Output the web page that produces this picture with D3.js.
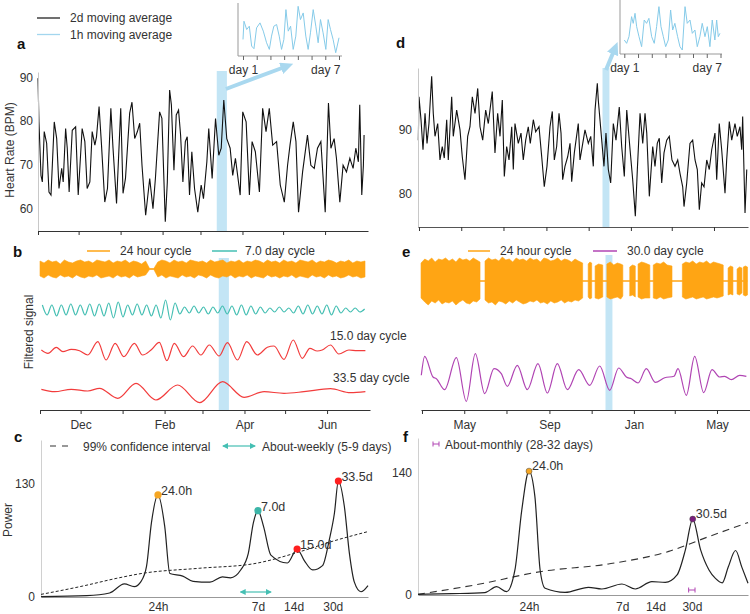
<!DOCTYPE html>
<html>
<head>
<meta charset="utf-8">
<script src="https://cdn.jsdelivr.net/npm/d3@7"></script>
<style>
  body { margin: 0; background: #fff; }
  svg { font-family: "Liberation Sans", Arial, sans-serif; }
</style>
</head>
<body>
<div id="chart"></div>
<script>
// ---------- data ----------
// panel a: 2d moving average heart rate, days since 1 Nov
var hrADays = [0,0.7,2.2,3.2,4.6,6.4,8.1,9.6,12,13.8,15.5,17.5,18.6,20.4,21.6,23,25.3,27.8,29.7,32.6,
  34.6,36.3,38.3,40,42,43.2,45.1,46.9,49.3,51.3,53.8,55.4,58,61.1,62.8,64.6,67.7,69.4,71.4,73.4,
  75.1,76.8,79.5,82.5,84.9,86.7,89.8,91.5,94,95.5,97.2,98.5,100.4,102.1,103.8,105.3,107,108.8,110.2,111.9,
  113.6,115.6,118,120.5,122.2,124.7,126.1,128.6,131.1,133.5,135.3,137.2,139.4,141.9,143.8,145.8,149.3,151.2,153.7,156.1,
  158.1,160.5,163.5,165.9,168.4,170.8,173.3,176.2,178.9,181.9,184.3,186.1,188.5,190.5,192.4,195.4,199,201.5,204,206.4,
  208.9,212.1,214.5,216.3,218.7,220.4,222.9,225.3,227.8,230.3,232.7,234.7,236.6,237.6,239.1,240.3,240.8];
var hrA = [89.8,79.8,67.6,66.1,77.6,74.9,63.8,63.1,79.8,76,64.6,69.2,66.1,78.3,73.8,63.8,77.9,78.7,63.1,78.3,
  75.3,64.6,66.1,77.6,74.5,76.4,83.3,74.5,61.5,64.6,82.9,73.8,61.2,82.9,63.5,66.9,81.8,84.3,76,77.6,
  79.5,69.9,58.5,66.9,60,66.9,82.1,80.6,57,66.1,87.1,83.7,68.8,81.4,82.5,76.8,66.1,75.3,76.4,63.1,
  73,64.6,59.2,65.4,62.3,70.7,78.3,66.9,80.6,72.2,73.8,84.8,76,73.8,67.6,71.5,63.1,82.1,79.8,63.1,
  75.3,73,63.8,82.9,77.6,82.9,74.5,75.3,65.4,61.5,69.9,74.5,79.8,75.3,59.2,68.4,76.8,69.9,69.2,73.8,
  75.3,59.2,84.1,73.8,76,71.5,61.5,69.9,68.4,71.5,69.2,73.8,70.7,83.7,63.1,69.9,76.8];

// panel d: days since 1 Mar
var hrDDays = [-1,0,2.9,5.8,8.7,11.6,14.4,18.3,20.6,23.1,27,30.3,33.6,36.5,40,42.3,47.2,49.5,54.4,59.2,
  62.5,66.4,70.3,73.6,77,80.9,84.8,88.1,92,96.3,100.1,105.8,109.7,113.6,117,120.3,123.2,126.6,130,133.9,
  136.2,138.6,143.4,147.3,150.6,154.1,157.8,160.7,165.1,168.5,173.3,177.2,180.9,184.8,189.2,192.5,195.4,198.8,202.2,205.1,
  207.5,210.8,214.7,218.1,220.5,224.3,230,232.5,239.7,244.5,248,251.7,254.2,257.5,258.9,267.1,270,273.4,276.8,280.6,
  284.5,289.2,292.7,296.5,300,304.8,308.6,312.4,315.3,319.2,323.1,326.4,328.9,332.6,337.5,340.8,344.1,347,350.5,353.8,
  357.7,361.4,365.3,369.7,373.6,376.9,380.8,382.7,386.6,391.3,395.2,398.6,401.9,404.8,408.2,411.6,415.5,419.2,422.7,427.4,
  429.9,433.6,437.1,441.9,444.3,448.1,451.6,456.3,459.6,463.5,466,467.4,470.8,473.3];
var hrD = [88.4,95.2,91.6,86.9,92.6,87.9,91,98.4,92.6,89,91,85.3,87.4,85.6,91.6,85.3,95.2,89,93.1,90,
  85.8,82.2,89,90.5,95.2,92.6,96.5,90.5,88.4,93.1,91,96,86.4,92.6,89,94.7,82.7,87.4,85.3,90.5,
  83.8,91,87.9,89.5,85.3,88.4,90.5,87.9,91.6,89.7,90.5,85.8,81.1,84.3,90.5,92.9,85.3,87.4,92.6,89.5,
  82.2,84.3,85.8,87.9,81.9,86.4,91,85.3,90,87.9,89,84.3,93.1,97.3,94.7,84.3,89.5,83.8,81.7,91,
  88.4,93.6,87.4,82.7,93.1,86.9,82.2,76.5,83.8,92.6,87.9,92.6,89.5,79.6,87.4,84.3,87.9,88.7,81.7,86.4,
  88.4,89,85.3,84.3,85.3,83.2,81.1,78,81.7,87.9,88.4,85.3,83.8,77.5,81.7,81.1,85.3,83.8,86.9,89.5,
  82.2,91,86.9,80.1,85.3,91.3,88.4,91,89,90.5,86.9,92.1,77,83.8];

// insets: 1h moving average over one week
var insetADays = [1,1.07,1.27,1.46,1.63,1.8,1.99,2.24,2.48,2.72,2.92,3.08,3.25,3.45,3.64,3.81,3.98,4.13,4.3,4.47,
  4.66,4.85,5.02,5.19,5.39,5.58,5.75,5.92,6.12,6.31,6.48,6.65,6.84,7.04,7.21,7.38,7.57,7.76,8];
var insetA = [70,81,76,78,66,64.4,77,80,75,68,64,72,78,79,72,64,70,88,75,78,
  64,72,90,82,86,72,64,74,88,78,68,82,74,64,82,76,70,62,71];
var insetDDays = [1,1.17,1.34,1.53,1.65,1.78,1.9,2.07,2.26,2.45,2.62,2.79,2.99,3.18,3.35,3.52,3.67,3.84,4.01,4.2,
  4.37,4.52,4.68,4.88,5.05,5.22,5.42,5.58,5.78,5.95,6.14,6.31,6.5,6.67,6.87,7.04,7.23,7.4,7.59,7.72,7.84,7.96];
var insetD = [68.4,66.4,70.4,82.4,78.4,84.4,76.4,70.4,64.4,80.4,78.4,81.4,70.4,66.4,76.4,88.4,76.4,70.4,64.4,68.4,
  86.4,74.4,78.4,70.4,64.4,62.4,88.4,78.4,80.4,72.4,74.4,64.4,70.4,78.4,70.4,76.4,64.4,80.4,68.4,80.4,70.4,72.4];

// panel b: filtered signals (arbitrary units)
var cyc24BStep = 3;
var cyc24BUpper = [8,6,9,7,8,5,9,7,6,8, 9,7,8,6,9,8,7,9,6,8, 7,9,6,8,7,5,8, 0.3,0.3,
  7,9,8,6,9,7,8,6,9,8,7, 8,6,9,7,8,9,6,8,7,9, 6,8,7,9,8,6,9,7,8,6,
  9,7,8,6,9,8,7,9,6,8, 7,9,8,6,8,7,9,6,8,7,8];
var cyc24BLower = [-7,-9,-6,-8,-9,-6,-8,-7,-9,-6, -8,-9,-7,-8,-6,-9,-8,-7,-9,-6, -8,-7,-9,-6,-8,-7,-6, -0.3,-0.3,
  -8,-6,-9,-7,-8,-9,-6,-8,-7,-9,-6, -7,-9,-6,-8,-9,-7,-8,-6,-9,-7, -8,-6,-9,-7,-8,-9,-6,-8,-7,-9,
  -7,-8,-6,-9,-7,-8,-9,-6,-8,-7, -9,-6,-8,-7,-9,-8,-6,-8,-7,-9,-8];
var cyc7BStart = 1.75, cyc7BStep = 3.5;
var cyc7B = [5,-5,5,-6,5,-5,6,-5,5,-5,6,-6,6,-6,7,-8,8,-7,5,-5,6,-5,5,-6,5,-8,10,-10,7,
  -4,3,-3,4,-3,3,-4,3,-3,4,-4,4,-5,5,-5,4,-4,3,-3,2,-2,3,-2,2,-3,4,-4,5,-4,4,-4,5,-5,4,-3,2,-2,2,-2,1];
var cyc15BDays = [1,5.9,12,16.9,23.1,29.2,35.3,42.7,48.8,55.5,61.9,69.7,75.8,82,88.1,93.7,99.2,106,112.7,118.8,
  125,132.3,138.4,145.8,152.7,160.5,167.9,172.8,180.2,187,193.7,199.3,204.7,208.4,214.5,220.7,228.1,234.2,240.3];
var cyc15B = [0,-3.3,2.7,-1.7,0.7,-0.7,-5,8.3,-10,6.7,-6.7,6.7,-5,0,7.7,-10.7,6.7,-6.7,4,-5,
  5,-6,7.3,-10,8.3,-5,2.7,4,-9.3,10,-8.3,1.7,-1,0,5,-4,0,-0.7,-0.7];
var cyc33BDays = [1,10.8,23.1,35.3,44,57.4,70.9,85.6,101.6,118,134.8,150.7,165.5,180.2,194.9,214.5,229.2,240.3];
var cyc33B = [1.7,-0.7,1.7,0,2.7,-7.3,7.7,-9,6,-11.7,9.3,-6.3,-0.7,-2.3,-0.7,2.3,-1.7,-0.7];

// panel e: 24h envelope (days since 1 Mar), zeros where the rhythm drops out
var cyc24EDays = [-1.4,-1.4,4,9,14,19,24,29,34,39,44,49,54,59,64,69,74,79,83.8,83.8,
  91,91,96,101,106,111,116,121,126,131,136,141,146,151,156,161,166,171,176,181,186,191,196,201,206,211,216,221,226,232,232,
  240,240,242.5,245,245, 250,250,255,261,261, 267,267,272,277,282,287,290,290, 300,300,304,308,308,
  312,312,317,322,329,329, 334,334,339,344,349,354,361,361,
  376,376,381,386,391,396,401,406,411,416,421,426,431,435,435,
  442,442,445.5,449,449, 455,455,458.5,462,462, 464,464,467,470,470];
var cyc24ETop = [0,18,22,20,23,19,22,21,23,20,22,19,23,21,22,20,23,21,19,0,
  0,20,23,21,22,20,24,21,22,19,23,21,22,20,23,21,22,19,23,22,20,21,23,20,22,21,19,22,20,18,0,
  0,17,19,18,0, 0,15,17,16,0, 0,17,19,16,18,17,16,0, 0,14,16,15,0,
  0,17,19,18,16,0, 0,16,18,17,19,16,15,0,
  0,17,19,18,20,17,19,18,20,17,19,18,17,16,0,
  0,13,15,14,0, 0,12,14,13,0, 0,14,15,14,0];
var cyc24EBottom = [0,17,21,24,20,22,19,23,21,22,20,24,21,19,22,23,20,21,18,0,
  0,19,22,21,24,20,21,23,20,22,19,21,23,22,20,21,19,22,21,23,20,22,21,19,22,20,21,19,20,17,0,
  0,16,18,17,0, 0,17,18,16,0, 0,16,18,17,16,18,15,0, 0,15,14,16,0,
  0,16,18,17,17,0, 0,17,18,16,18,17,16,0,
  0,16,18,17,16,18,17,16,18,17,16,17,16,15,0,
  0,14,13,14,0, 0,13,14,12,0, 0,14,15,14,0];
var cyc30EDays = [-1,3.9,15.9,20.7,32.7,49.6,64,77,90.5,104,114.5,123.2,137.6,152.1,167.5,181,195.4,209.9,226.3,242.2,
  256.6,271.1,284,295.1,302.3,312,323.9,336.9,350.5,363.9,369.7,381.7,393.8,406.8,418.8,429.9,437.1,446.7,458.8,468.4];
var cyc30E = [1.7,20.7,0,-1.7,-12.7,19.3,-24.3,23.3,-16.7,8.3,3.3,-9.3,11.7,-12.7,13.3,-16,13.3,-12.7,7.3,-8.3,
  11,-13.3,9,0,-1.7,-6,8.3,-5.3,-0.7,0.7,8.3,-18.3,20.7,-15.7,7.3,0,0.7,-2.7,1.7,0.7];

// panel c: power spectrum (period in days)
var powerCPeriods = [0.1026,0.25,0.39,0.52,0.63,0.72,0.8,0.88,1,1.14,1.26,1.62,1.98,2.75,3.5,4.1,5,5.8,6.4,7,
  7.8,9,12.4,15,17.2,20.3,24.6,28,31,33.5,37.6,41.5,45.7,52,59.6];
var powerC = [0.5,1.5,4.6,15,12,18,35,85,117,81,27,24,18,17,23,22,31,50,85,99,
  81,48,39,55,42,31,36,65,96,133,104,50,17,6,13];
var ciCPeriods = [0.1026,0.232,0.45,0.73,2.26,6.35,15.9,30.1,59.6];
var ciC = [3,12.6,21.5,27,33,38,52,64,75];
var peakLabelsC = ["24.0h","7.0d","15.0d","33.5d"];
var peakPeriodsC = [1,7,15,33.5];
var peakPowerC = [117,99,55,133];

// panel f
var powerFPeriods = [0.0985,0.2,0.398,0.508,0.627,0.746,0.859,1,1.13,1.26,1.4,2.12,3.46,4.57,6.96,9.2,13,17.2,22,26.2,
  30.5,35.9,42.7,49,56.5,64,74.6,85,96.7];
var powerF = [0.8,1.5,2.7,9.6,3.8,29,97,142,113,29,7.7,3,8.8,6.9,12.6,6.9,15.3,14.5,23,52,
  87,52,29,19,14,32,51,32,13.4];
var ciFPeriods = [0.0985,0.323,1.3,5.25,18.5,42.7,96.7];
var ciF = [0.8,11.5,27,35.6,50,67,83];
var peakLabelsF = ["24.0h","30.5d"];
var peakPeriodsF = [1,30.5];
var peakPowerF = [142,87];

var periodTicks = [1,7,14,30];
var periodTickLabels = ["24h","7d","14d","30d"];
var monthLabelsB = ["","Dec","","Feb","","Apr","","Jun"];
var monthLabelsE = ["","May","","Sep","","Jan","","May"];
var highlightA = [132,139.5];
var highlightD = [265,275];

// ---------- colours ----------
var ORANGE = "#ffa514", TEAL = "#45bfb3", RED = "#f23c3c", PURPLE = "#b044b3";
var BAND = "#c3e5f5", ARROW = "#a9d8ef", INSET = "#86cbe9";

// ---------- scales ----------
var DAY = 864e5;
var startA = new Date(2018, 10, 1), startD = new Date(2018, 2, 1);
function dA(d) { return new Date(startA.getTime() + d * DAY); }
function dD(d) { return new Date(startD.getTime() + d * DAY); }

var xA = d3.scaleTime().domain([dA(0), dA(243.7)]).range([38, 368]);
var xB = d3.scaleTime().domain([dA(0), dA(243.7)]).range([40, 370]);
var xD = d3.scaleTime().domain([dD(-1.44), dD(475.1)]).range([418, 748]);
var xE = d3.scaleTime().domain([dD(-1.44), dD(475.1)]).range([421, 751]);
var yA = d3.scaleLinear().domain([54.9, 91.2]).range([231, 72]);
var yD = d3.scaleLinear().domain([74.8, 99.7]).range([227, 68]);

var monthTicksA = d3.timeMonth.range(dA(0), dA(213));
var monthTicksD = d3.timeMonth.every(2).range(dD(0), dD(430));

var svg = d3.select("#chart").append("svg").attr("width", 750).attr("height", 614);

var defs = svg.append("defs");
defs.append("marker").attr("id", "bigHead").attr("markerUnits", "userSpaceOnUse")
  .attr("markerWidth", 13).attr("markerHeight", 12).attr("refX", 1).attr("refY", 6).attr("orient", "auto")
  .append("path").attr("d", "M0,0L13,6L0,12Z").attr("fill", ARROW);
defs.append("marker").attr("id", "tealHead").attr("markerUnits", "userSpaceOnUse")
  .attr("markerWidth", 6).attr("markerHeight", 6).attr("refX", 5).attr("refY", 3).attr("orient", "auto-start-reverse")
  .append("path").attr("d", "M0,0L6,3L0,6Z").attr("fill", TEAL);

function label(x, y, s, opt) {
  opt = opt || {};
  return svg.append("text").attr("x", x).attr("y", y).text(s)
    .attr("font-size", opt.size || 12).attr("fill", opt.color || "#333")
    .attr("font-weight", opt.bold ? "bold" : null)
    .attr("text-anchor", opt.anchor || "start");
}
function vlabel(x, y, s) {
  svg.append("text").attr("transform", "translate(" + x + "," + y + ") rotate(-90)")
    .attr("text-anchor", "middle").attr("font-size", 12).attr("fill", "#333").text(s);
}
function styleAxis(g, domainColor) {
  g.select(".domain").attr("stroke", domainColor);
  g.selectAll(".tick line").attr("stroke", "#333");
  g.selectAll(".tick text").attr("fill", "#333").attr("font-size", 12).attr("font-family", "Liberation Sans, Arial, sans-serif");
}

// ---------- panel labels ----------
label(17, 49, "a", {size: 15, bold: true, color: "#111"});
label(13, 257, "b", {size: 15, bold: true, color: "#111"});
label(14, 442, "c", {size: 15, bold: true, color: "#111"});
label(396, 48, "d", {size: 15, bold: true, color: "#111"});
label(402, 257, "e", {size: 15, bold: true, color: "#111"});
label(403, 442, "f", {size: 15, bold: true, color: "#111"});

// ---------- legend a ----------
svg.append("line").attr("x1", 37).attr("x2", 60).attr("y1", 18).attr("y2", 18).attr("stroke", "#222").attr("stroke-width", 1.3);
label(70, 22, "2d moving average");
svg.append("line").attr("x1", 37).attr("x2", 60).attr("y1", 34.5).attr("y2", 34.5).attr("stroke", "#a3d6ee").attr("stroke-width", 1.3);
label(70, 38.5, "1h moving average");

// ---------- panel a ----------
var hrLineA = d3.line().x(function (d) { return xA(dA(d[0])); }).y(function (d) { return yA(d[1]); });
svg.append("rect").attr("x", xA(dA(highlightA[0]))).attr("y", 71)
  .attr("width", xA(dA(highlightA[1])) - xA(dA(highlightA[0]))).attr("height", 160).attr("fill", BAND);
svg.append("path").datum(d3.zip(hrADays, hrA)).attr("d", hrLineA)
  .attr("fill", "none").attr("stroke", "#111").attr("stroke-width", 1.1);
var axA = svg.append("g").attr("transform", "translate(38,0)")
  .call(d3.axisLeft(yA).tickValues([60, 70, 80, 90]).tickSize(0).tickPadding(5));
styleAxis(axA, "#c8c8c8");
var axAx = svg.append("g").attr("transform", "translate(0,231)")
  .call(d3.axisBottom(xA).tickValues(monthTicksA).tickFormat("").tickSize(4).tickSizeOuter(0));
styleAxis(axAx, "#333");
vlabel(14, 150, "Heart Rate (BPM)");

// inset a
var xInA = d3.scaleLinear().domain([1, 8]).range([243, 339]);
var yInA = d3.scaleLinear().domain([60, 92]).range([56, 3]);
svg.append("path").attr("d", "M238,3V56H342").attr("fill", "none").attr("stroke", "#999");
var inAx = svg.append("g").attr("transform", "translate(0,56)")
  .call(d3.axisBottom(xInA).tickValues([1,2,3,4,5,6,7,8]).tickSize(4)
    .tickFormat(function (d) { return d === 1 ? "day 1" : d === 7 ? "day 7" : ""; }));
inAx.select(".domain").remove();
inAx.selectAll(".tick line").attr("stroke", "#666");
inAx.selectAll(".tick text").attr("font-size", 12).attr("fill", "#333").attr("dy", "0.9em").attr("font-family", "Liberation Sans, Arial, sans-serif");
svg.append("path").datum(d3.zip(insetADays, insetA))
  .attr("d", d3.line().x(function (d) { return xInA(d[0]); }).y(function (d) { return yInA(d[1]); }))
  .attr("fill", "none").attr("stroke", INSET).attr("stroke-width", 1);
svg.append("line").attr("x1", xA(dA(highlightA[1])) - 1).attr("y1", 89).attr("x2", 282).attr("y2", 68)
  .attr("stroke", ARROW).attr("stroke-width", 4).attr("marker-end", "url(#bigHead)");

// ---------- panel d ----------
var hrLineD = d3.line().x(function (d) { return xD(dD(d[0])); }).y(function (d) { return yD(d[1]); });
svg.append("rect").attr("x", xD(dD(highlightD[0]))).attr("y", 68)
  .attr("width", xD(dD(highlightD[1])) - xD(dD(highlightD[0]))).attr("height", 159).attr("fill", BAND);
svg.append("path").datum(d3.zip(hrDDays, hrD)).attr("d", hrLineD)
  .attr("fill", "none").attr("stroke", "#111").attr("stroke-width", 1.1);
var axD = svg.append("g").attr("transform", "translate(418,0)")
  .call(d3.axisLeft(yD).tickValues([80, 90]).tickSize(0).tickPadding(6));
styleAxis(axD, "#c8c8c8");
var axDx = svg.append("g").attr("transform", "translate(0,227)")
  .call(d3.axisBottom(xD).tickValues(monthTicksD).tickFormat("").tickSize(4).tickSizeOuter(0));
styleAxis(axDx, "#555");

// inset d
var xInD = d3.scaleLinear().domain([1, 8]).range([624.3, 720.5]);
var yInD = d3.scaleLinear().domain([60, 92.4]).range([54, 0]);
svg.append("path").attr("d", "M620,0V54H722").attr("fill", "none").attr("stroke", "#999");
var inDx = svg.append("g").attr("transform", "translate(0,54)")
  .call(d3.axisBottom(xInD).tickValues([1,2,3,4,5,6,7,8]).tickSize(4)
    .tickFormat(function (d) { return d === 1 ? "day 1" : d === 7 ? "day 7" : ""; }));
inDx.select(".domain").remove();
inDx.selectAll(".tick line").attr("stroke", "#666");
inDx.selectAll(".tick text").attr("font-size", 12).attr("fill", "#333").attr("dy", "0.9em").attr("font-family", "Liberation Sans, Arial, sans-serif");
svg.append("path").datum(d3.zip(insetDDays, insetD))
  .attr("d", d3.line().x(function (d) { return xInD(d[0]); }).y(function (d) { return yInD(d[1]); }))
  .attr("fill", "none").attr("stroke", INSET).attr("stroke-width", 1);
var dMid = (xD(dD(highlightD[0])) + xD(dD(highlightD[1]))) / 2;
svg.append("line").attr("x1", dMid).attr("y1", 70).attr("x2", 613).attr("y2", 53)
  .attr("stroke", ARROW).attr("stroke-width", 4).attr("marker-end", "url(#bigHead)");

// ---------- panel b ----------
var yOrB = d3.scaleLinear().domain([-10, 10]).range([279, 259]);
var yTeal = d3.scaleLinear().domain([-10, 10]).range([320, 300]);
var y15 = d3.scaleLinear().domain([-10, 10]).range([360, 340]);
var y33 = d3.scaleLinear().domain([-10, 10]).range([401, 381]);

svg.append("rect").attr("x", xB(dA(highlightA[0]))).attr("y", 258)
  .attr("width", xB(dA(highlightA[1])) - xB(dA(highlightA[0]))).attr("height", 152).attr("fill", BAND);

svg.append("line").attr("x1", xB(dA(0))).attr("x2", xB(dA(240))).attr("y1", yOrB(0)).attr("y2", yOrB(0))
  .attr("stroke", ORANGE).attr("stroke-width", 1);
svg.append("path").datum(d3.range(cyc24BUpper.length))
  .attr("d", d3.area()
    .x(function (i) { return xB(dA(i * cyc24BStep)); })
    .y0(function (i) { return yOrB(cyc24BLower[i]); })
    .y1(function (i) { return yOrB(cyc24BUpper[i]); }))
  .attr("fill", ORANGE).attr("stroke", ORANGE).attr("stroke-width", 0.6);

var smoothB = function (yS) {
  return d3.line().x(function (d) { return xB(dA(d[0])); }).y(function (d) { return yS(d[1]); }).curve(d3.curveMonotoneX);
};
svg.append("path").datum(cyc7B.map(function (v, i) { return [cyc7BStart + i * cyc7BStep, v]; }))
  .attr("d", smoothB(yTeal)).attr("fill", "none").attr("stroke", TEAL).attr("stroke-width", 1.2);
svg.append("path").datum(d3.zip(cyc15BDays, cyc15B))
  .attr("d", smoothB(y15)).attr("fill", "none").attr("stroke", RED).attr("stroke-width", 1.2);
svg.append("path").datum(d3.zip(cyc33BDays, cyc33B))
  .attr("d", smoothB(y33)).attr("fill", "none").attr("stroke", RED).attr("stroke-width", 1.2);

// legend b
svg.append("line").attr("x1", 87).attr("x2", 110).attr("y1", 251).attr("y2", 251).attr("stroke", ORANGE).attr("stroke-width", 1.5);
label(120, 255, "24 hour cycle");
svg.append("line").attr("x1", 212).attr("x2", 237).attr("y1", 251).attr("y2", 251).attr("stroke", TEAL).attr("stroke-width", 1.5);
label(245, 255, "7.0 day cycle");
label(330, 340, "15.0 day cycle");
label(333, 382, "33.5 day cycle");
vlabel(33, 332, "Filtered signal");

var axB = svg.append("g").attr("transform", "translate(0,410)")
  .call(d3.axisBottom(xB).tickValues(monthTicksA).tickSize(4).tickPadding(6).tickSizeOuter(0)
    .tickFormat(function (d, i) { return monthLabelsB[i]; }));
styleAxis(axB, "#333");

// ---------- panel e ----------
var yOrE = d3.scaleLinear().domain([-25, 25]).range([306, 256]);
var yPur = d3.scaleLinear().domain([-25, 25]).range([402, 352]);

svg.append("rect").attr("x", xE(dD(highlightD[0]))).attr("y", 255)
  .attr("width", xE(dD(highlightD[1])) - xE(dD(highlightD[0]))).attr("height", 155).attr("fill", BAND);
svg.append("line").attr("x1", xE(dD(-1.4))).attr("x2", xE(dD(470))).attr("y1", yOrE(0)).attr("y2", yOrE(0))
  .attr("stroke", ORANGE).attr("stroke-width", 1);
svg.append("path").datum(d3.range(cyc24EDays.length))
  .attr("d", d3.area()
    .x(function (i) { return xE(dD(cyc24EDays[i])); })
    .y0(function (i) { return yOrE(-cyc24EBottom[i]); })
    .y1(function (i) { return yOrE(cyc24ETop[i]); }))
  .attr("fill", ORANGE).attr("stroke", ORANGE).attr("stroke-width", 0.6);
svg.append("path").datum(d3.zip(cyc30EDays, cyc30E))
  .attr("d", d3.line().x(function (d) { return xE(dD(d[0])); }).y(function (d) { return yPur(d[1]); }).curve(d3.curveMonotoneX))
  .attr("fill", "none").attr("stroke", PURPLE).attr("stroke-width", 1.2);

svg.append("line").attr("x1", 468).attr("x2", 490).attr("y1", 251).attr("y2", 251).attr("stroke", ORANGE).attr("stroke-width", 1.5);
label(500, 255, "24 hour cycle");
svg.append("line").attr("x1", 593).attr("x2", 617).attr("y1", 251).attr("y2", 251).attr("stroke", PURPLE).attr("stroke-width", 1.5);
label(627, 255, "30.0 day cycle");

var axE = svg.append("g").attr("transform", "translate(0,410)")
  .call(d3.axisBottom(xE).tickValues(monthTicksD).tickSize(4).tickPadding(6).tickSizeOuter(0)
    .tickFormat(function (d, i) { return monthLabelsE[i]; }));
styleAxis(axE, "#333");

// ---------- panel c ----------
var xC = d3.scaleLog().domain([0.1026, 59.6]).range([41, 368]);
var yC = d3.scaleLinear().domain([0, 180]).range([597, 440]);
var axCy = svg.append("g").attr("transform", "translate(41,0)")
  .call(d3.axisLeft(yC).tickValues([0, 130]).tickSize(0).tickPadding(6).tickSizeOuter(0));
styleAxis(axCy, "#d0d0d0");
var axCx = svg.append("g").attr("transform", "translate(0,597)")
  .call(d3.axisBottom(xC).tickValues(periodTicks).tickSize(0).tickPadding(5).tickSizeOuter(0)
    .tickFormat(function (d, i) { return periodTickLabels[i]; }));
styleAxis(axCx, "#999");
vlabel(12, 520, "Power");

svg.append("path").datum(d3.zip(ciCPeriods, ciC))
  .attr("d", d3.line().x(function (d) { return xC(d[0]); }).y(function (d) { return yC(d[1]); }).curve(d3.curveMonotoneX))
  .attr("fill", "none").attr("stroke", "#222").attr("stroke-width", 1).attr("stroke-dasharray", "3,2");
svg.append("path").datum(d3.zip(powerCPeriods, powerC))
  .attr("d", d3.line().x(function (d) { return xC(d[0]); }).y(function (d) { return yC(d[1]); }).curve(d3.curveMonotoneX))
  .attr("fill", "none").attr("stroke", "#222").attr("stroke-width", 1.2);

var peakColorsC = ["#f5a623", "#3cb5a8", "#ff1f1f", "#ff1f1f"];
peakLabelsC.forEach(function (lab, i) {
  var px = xC(peakPeriodsC[i]), py = yC(peakPowerC[i]);
  svg.append("circle").attr("cx", px).attr("cy", py).attr("r", 3.6).attr("fill", peakColorsC[i]);
  label(px + 3, py, lab, {size: 12.5});
});

// about-weekly range
svg.append("line").attr("x1", xC(5)).attr("x2", xC(9)).attr("y1", 592).attr("y2", 592)
  .attr("stroke", TEAL).attr("stroke-width", 1.2)
  .attr("marker-start", "url(#tealHead)").attr("marker-end", "url(#tealHead)");

// legend c
svg.append("line").attr("x1", 50).attr("x2", 70).attr("y1", 446).attr("y2", 446)
  .attr("stroke", "#333").attr("stroke-width", 1.2).attr("stroke-dasharray", "6,6");
label(83, 450.5, "99% confidence interval");
svg.append("line").attr("x1", 223).attr("x2", 255).attr("y1", 446).attr("y2", 446)
  .attr("stroke", TEAL).attr("stroke-width", 1.2)
  .attr("marker-start", "url(#tealHead)").attr("marker-end", "url(#tealHead)");
label(262, 450.5, "About-weekly (5-9 days)");

// ---------- panel f ----------
var xF = d3.scaleLog().domain([0.0985, 96.7]).range([418, 748]);
var yF = d3.scaleLinear().domain([0, 180]).range([595, 438]);
var axFy = svg.append("g").attr("transform", "translate(418,0)")
  .call(d3.axisLeft(yF).tickValues([0, 140]).tickSize(0).tickPadding(6).tickSizeOuter(0));
styleAxis(axFy, "#d0d0d0");
var axFx = svg.append("g").attr("transform", "translate(0,595)")
  .call(d3.axisBottom(xF).tickValues(periodTicks).tickSize(0).tickPadding(7).tickSizeOuter(0)
    .tickFormat(function (d, i) { return periodTickLabels[i]; }));
styleAxis(axFx, "#999");

svg.append("path").datum(d3.zip(ciFPeriods, ciF))
  .attr("d", d3.line().x(function (d) { return xF(d[0]); }).y(function (d) { return yF(d[1]); }).curve(d3.curveMonotoneX))
  .attr("fill", "none").attr("stroke", "#333").attr("stroke-width", 1.1).attr("stroke-dasharray", "7,5");
svg.append("path").datum(d3.zip(powerFPeriods, powerF))
  .attr("d", d3.line().x(function (d) { return xF(d[0]); }).y(function (d) { return yF(d[1]); }).curve(d3.curveMonotoneX))
  .attr("fill", "none").attr("stroke", "#222").attr("stroke-width", 1.2);

var peakColorsF = ["#f5a623", "#7b1c7d"];
peakLabelsF.forEach(function (lab, i) {
  var px = xF(peakPeriodsF[i]), py = yF(peakPowerF[i]);
  svg.append("circle").attr("cx", px).attr("cy", py).attr("r", 3).attr("fill", peakColorsF[i])
    .attr("stroke", "#444").attr("stroke-width", 0.5);
  label(px + 3, py - 1, lab, {size: 12.5});
});

// about-monthly range marker
function hBar(x1, x2, y) {
  svg.append("path").attr("d", "M" + x1 + "," + (y - 2.5) + "V" + (y + 2.5) + "M" + x1 + "," + y + "H" + x2 + "M" + x2 + "," + (y - 2.5) + "V" + (y + 2.5))
    .attr("fill", "none").attr("stroke", PURPLE).attr("stroke-width", 1);
}
hBar(xF(28), xF(32), 590);
hBar(433, 439, 444);
label(445, 448.5, "About-monthly (28-32 days)");
</script>
</body>
</html>
